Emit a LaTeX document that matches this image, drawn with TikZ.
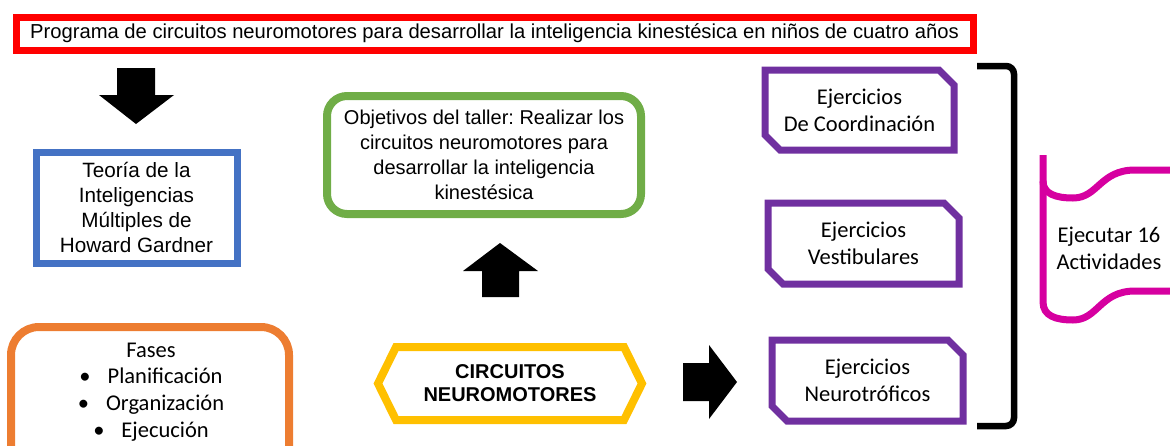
\documentclass[tikz,border=0pt]{standalone}
\usepackage{fontspec}
\setmainfont{Liberation Sans}
\newfontfamily\calib{Carlito}
\frenchspacing
\definecolor{redc}{RGB}{255,0,0}
\definecolor{bluec}{RGB}{68,114,196}
\definecolor{orangec}{RGB}{237,125,49}
\definecolor{greenc}{RGB}{112,173,71}
\definecolor{goldc}{RGB}{255,192,0}
\definecolor{purplec}{RGB}{112,48,160}
\definecolor{pinkc}{RGB}{214,0,160}
\begin{document}
\frenchspacing
\begin{tikzpicture}[x=1pt,y=-1pt,
  arialtxt/.style={font=\fontsize{20}{25}\selectfont, align=center, inner sep=0pt, outer sep=0pt},
  calitxt/.style={font=\calib\fontsize{22.5}{27}\selectfont, align=center, inner sep=0pt, outer sep=0pt},
  purplebox/.style={calitxt, minimum height=81pt},
  purpleline/.style={draw=purplec, line width=7pt},
  blockarrow/.style={fill=black}]
\useasboundingbox (0,0) rectangle (1170,445);
\clip (0,0) rectangle (1170,445);

% title
\node[arialtxt, font=\fontsize{20.2}{25}\selectfont, draw=redc, line width=7pt, minimum width=957pt, minimum height=33pt]
  (title) at (494.5,33.5) {Programa de circuitos neuromotores para desarrollar la inteligencia kinestésica en niños de cuatro años};

% down arrow
\fill[blockarrow] (117,68) -- (155,68) -- (155,95) -- (174,95) -- (136,124) -- (99,95) -- (117,95) -- cycle;

% theory box
\node[arialtxt, font=\fontsize{20.7}{25}\selectfont, draw=bluec, line width=7pt, minimum width=201pt, minimum height=111pt]
  (teoria) at (136.5,207.5) {Teoría de la\\Inteligencias\\Múltiples de\\Howard Gardner};

% phases box (cut at bottom)
\draw[draw=orangec, line width=8pt, rounded corners=28pt] (11,480) -- (11,327) -- (289,327) -- (289,480);
\node[calitxt, font=\calib\fontsize{22.5}{26.7}\selectfont] (fases) at (151,392)
  {Fases\\ •\hspace{17pt}Planificación\\ •\hspace{17pt}Organización\\ •\hspace{17pt}Ejecución};

% objectives box
\node[arialtxt, draw=greenc, line width=8pt, rounded corners=20pt, minimum width=314pt, minimum height=118pt]
  (obj) at (484,155) {Objetivos del taller: Realizar los\\circuitos neuromotores para\\desarrollar la inteligencia\\kinestésica};

% up arrow
\fill[blockarrow] (482,297) -- (482,271) -- (463,271) -- (500,243) -- (538,271) -- (519,271) -- (519,297) -- cycle;

% hexagon
\node[arialtxt, font=\bfseries\fontsize{20}{23}\selectfont, minimum width=228pt, minimum height=73pt]
  (circ) at (510,383.5) {CIRCUITOS\\NEUROMOTORES};
\draw[draw=goldc, line width=8pt] (circ.north west) -- (circ.north east) -- ([xshift=18pt]circ.east)
  -- (circ.south east) -- (circ.south west) -- ([xshift=-18pt]circ.west) -- cycle;

% right arrow
\fill[blockarrow] (683,363) -- (709,363) -- (709,345) -- (737,382) -- (709,419) -- (709,401) -- (683,401) -- cycle;

% purple boxes
\node[purplebox, minimum width=189pt, minimum height=80pt] (ej1) at (859.5,110) {Ejercicios\\De Coordinación};
\node[purplebox, minimum width=191pt] (ej2) at (863.5,243.5) {Ejercicios\\Vestibulares};
\node[purplebox, minimum width=191pt] (ej3) at (867.5,380.5) {Ejercicios\\Neurotróficos};
\foreach \n in {ej1,ej2,ej3}{
  \draw[purpleline] (\n.north west) -- ([xshift=-15pt]\n.north east) -- ([yshift=-15pt]\n.north east)
    -- (\n.south east) -- ([xshift=15pt]\n.south west) -- ([yshift=15pt]\n.south west) -- cycle;
}

% bracket
\coordinate (brtop) at (977,66);
\coordinate (brbot) at (977,426);
\draw[line width=6.5pt, rounded corners=8pt] (brtop) -- (1014,66) -- (1014,426) -- (brbot);

% scroll shape
\draw[draw=pinkc, line width=7pt] (1043,155) -- (1043,302)
  .. controls (1043,316) and (1056,320) .. (1073,320)
  .. controls (1098,320) and (1100,291) .. (1135,291) -- (1185,291);
\draw[draw=pinkc, line width=7pt] (1043,181)
  .. controls (1043,194) and (1056,198) .. (1073,198)
  .. controls (1098,198) and (1100,170) .. (1135,170) -- (1185,170);
\node[calitxt] (ejec) at (1109,248) {Ejecutar 16\\Actividades};
\end{tikzpicture}
\end{document}
